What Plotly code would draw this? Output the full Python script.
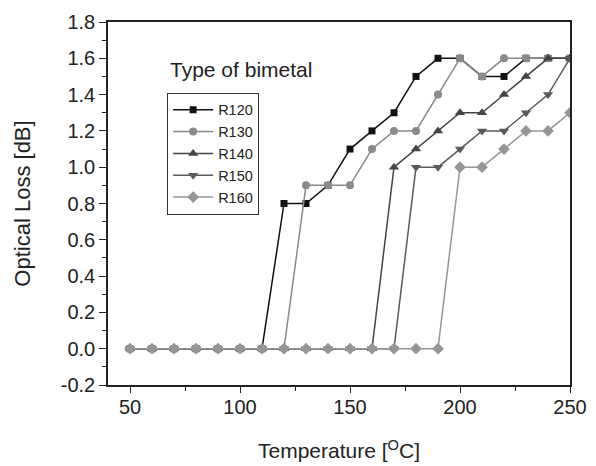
import plotly.graph_objects as go

temps = [50, 60, 70, 80, 90, 100, 110, 120, 130, 140, 150, 160, 170, 180, 190, 200, 210, 220, 230, 240, 250]
r120 = [0, 0, 0, 0, 0, 0, 0, 0.8, 0.8, 0.9, 1.1, 1.2, 1.3, 1.5, 1.6, 1.6, 1.5, 1.5, 1.6, 1.6, 1.6]
r130 = [0, 0, 0, 0, 0, 0, 0, 0, 0.9, 0.9, 0.9, 1.1, 1.2, 1.2, 1.4, 1.6, 1.5, 1.6, 1.6, 1.6, 1.6]
r140 = [0, 0, 0, 0, 0, 0, 0, 0, 0, 0, 0, 0, 1.0, 1.1, 1.2, 1.3, 1.3, 1.4, 1.5, 1.6, 1.6]
r150 = [0, 0, 0, 0, 0, 0, 0, 0, 0, 0, 0, 0, 0, 1.0, 1.0, 1.1, 1.2, 1.2, 1.3, 1.4, 1.6]
r160 = [0, 0, 0, 0, 0, 0, 0, 0, 0, 0, 0, 0, 0, 0, 0, 1.0, 1.0, 1.1, 1.2, 1.2, 1.3]

names = ["R120", "R130", "R140", "R150", "R160"]
series = [r120, r130, r140, r150, r160]
colors = ["#111111", "#8a8a8a", "#444444", "#5a5a5a", "#969696"]
symbols = ["square", "circle", "triangle-up", "triangle-down", "diamond"]
sizes = [7, 8, 9, 9, 9]

fig = go.Figure()
for n, s, c, sym, sz in zip(names, series, colors, symbols, sizes):
    fig.add_trace(go.Scatter(
        x=temps, y=s, name=n, mode="lines+markers",
        line=dict(color=c, width=1.5),
        marker=dict(symbol=sym, size=sz, color=c),
    ))

font = "Liberation Sans, Arial, sans-serif"
fig.update_layout(
    width=596, height=466,
    margin=dict(l=108, r=26, t=22, b=81),
    paper_bgcolor="white", plot_bgcolor="white",
    font=dict(family=font, size=15, color="#222222"),
    showlegend=True,
    legend=dict(
        x=0.128, y=0.805, xanchor="left", yanchor="top",
        bordercolor="#333333", borderwidth=1, bgcolor="white",
        font=dict(family=font, size=14.5, color="#222222"),
        tracegroupgap=0, itemwidth=40,
    ),
    annotations=[dict(
        text="Type of bimetal", x=0.13, y=0.87, xref="paper", yref="paper",
        xanchor="left", yanchor="middle", showarrow=False,
        font=dict(family=font, size=21, color="#222222"),
    )],
)
fig.update_xaxes(
    range=[40, 250], tickvals=[50, 100, 150, 200, 250],
    ticks="outside", ticklen=6, tickwidth=1.2, tickcolor="#222222",
    showline=True, linecolor="#222222", linewidth=1.5, mirror=True,
    showgrid=False, zeroline=False, automargin=False,
    minor=dict(ticks="outside", ticklen=4, tickvals=[75, 125, 175, 225], tickcolor="#222222"),
    title=dict(text="Temperature [<sup>O</sup>C]", font=dict(family=font, size=21), standoff=27),
    tickfont=dict(family=font, size=20),
    ticklabelstandoff=-3,
)
fig.update_yaxes(
    range=[-0.2, 1.8], tickvals=[-0.2, 0, 0.2, 0.4, 0.6, 0.8, 1.0, 1.2, 1.4, 1.6, 1.8],
    ticktext=["-0.2", "0.0", "0.2", "0.4", "0.6", "0.8", "1.0", "1.2", "1.4", "1.6", "1.8"],
    ticks="outside", ticklen=7, tickwidth=1.2, tickcolor="#222222",
    showline=True, linecolor="#222222", linewidth=1.5, mirror=True,
    showgrid=False, zeroline=False, automargin=False,
    minor=dict(ticks="outside", ticklen=4, dtick=0.1, tickcolor="#222222"),
    title=dict(text="Optical Loss [dB]", font=dict(family=font, size=22), standoff=24),
    tickfont=dict(family=font, size=20),
)
fig.write_html("out.html", config={"displayModeBar": False},
               post_script="document.body.style.margin='0';")
